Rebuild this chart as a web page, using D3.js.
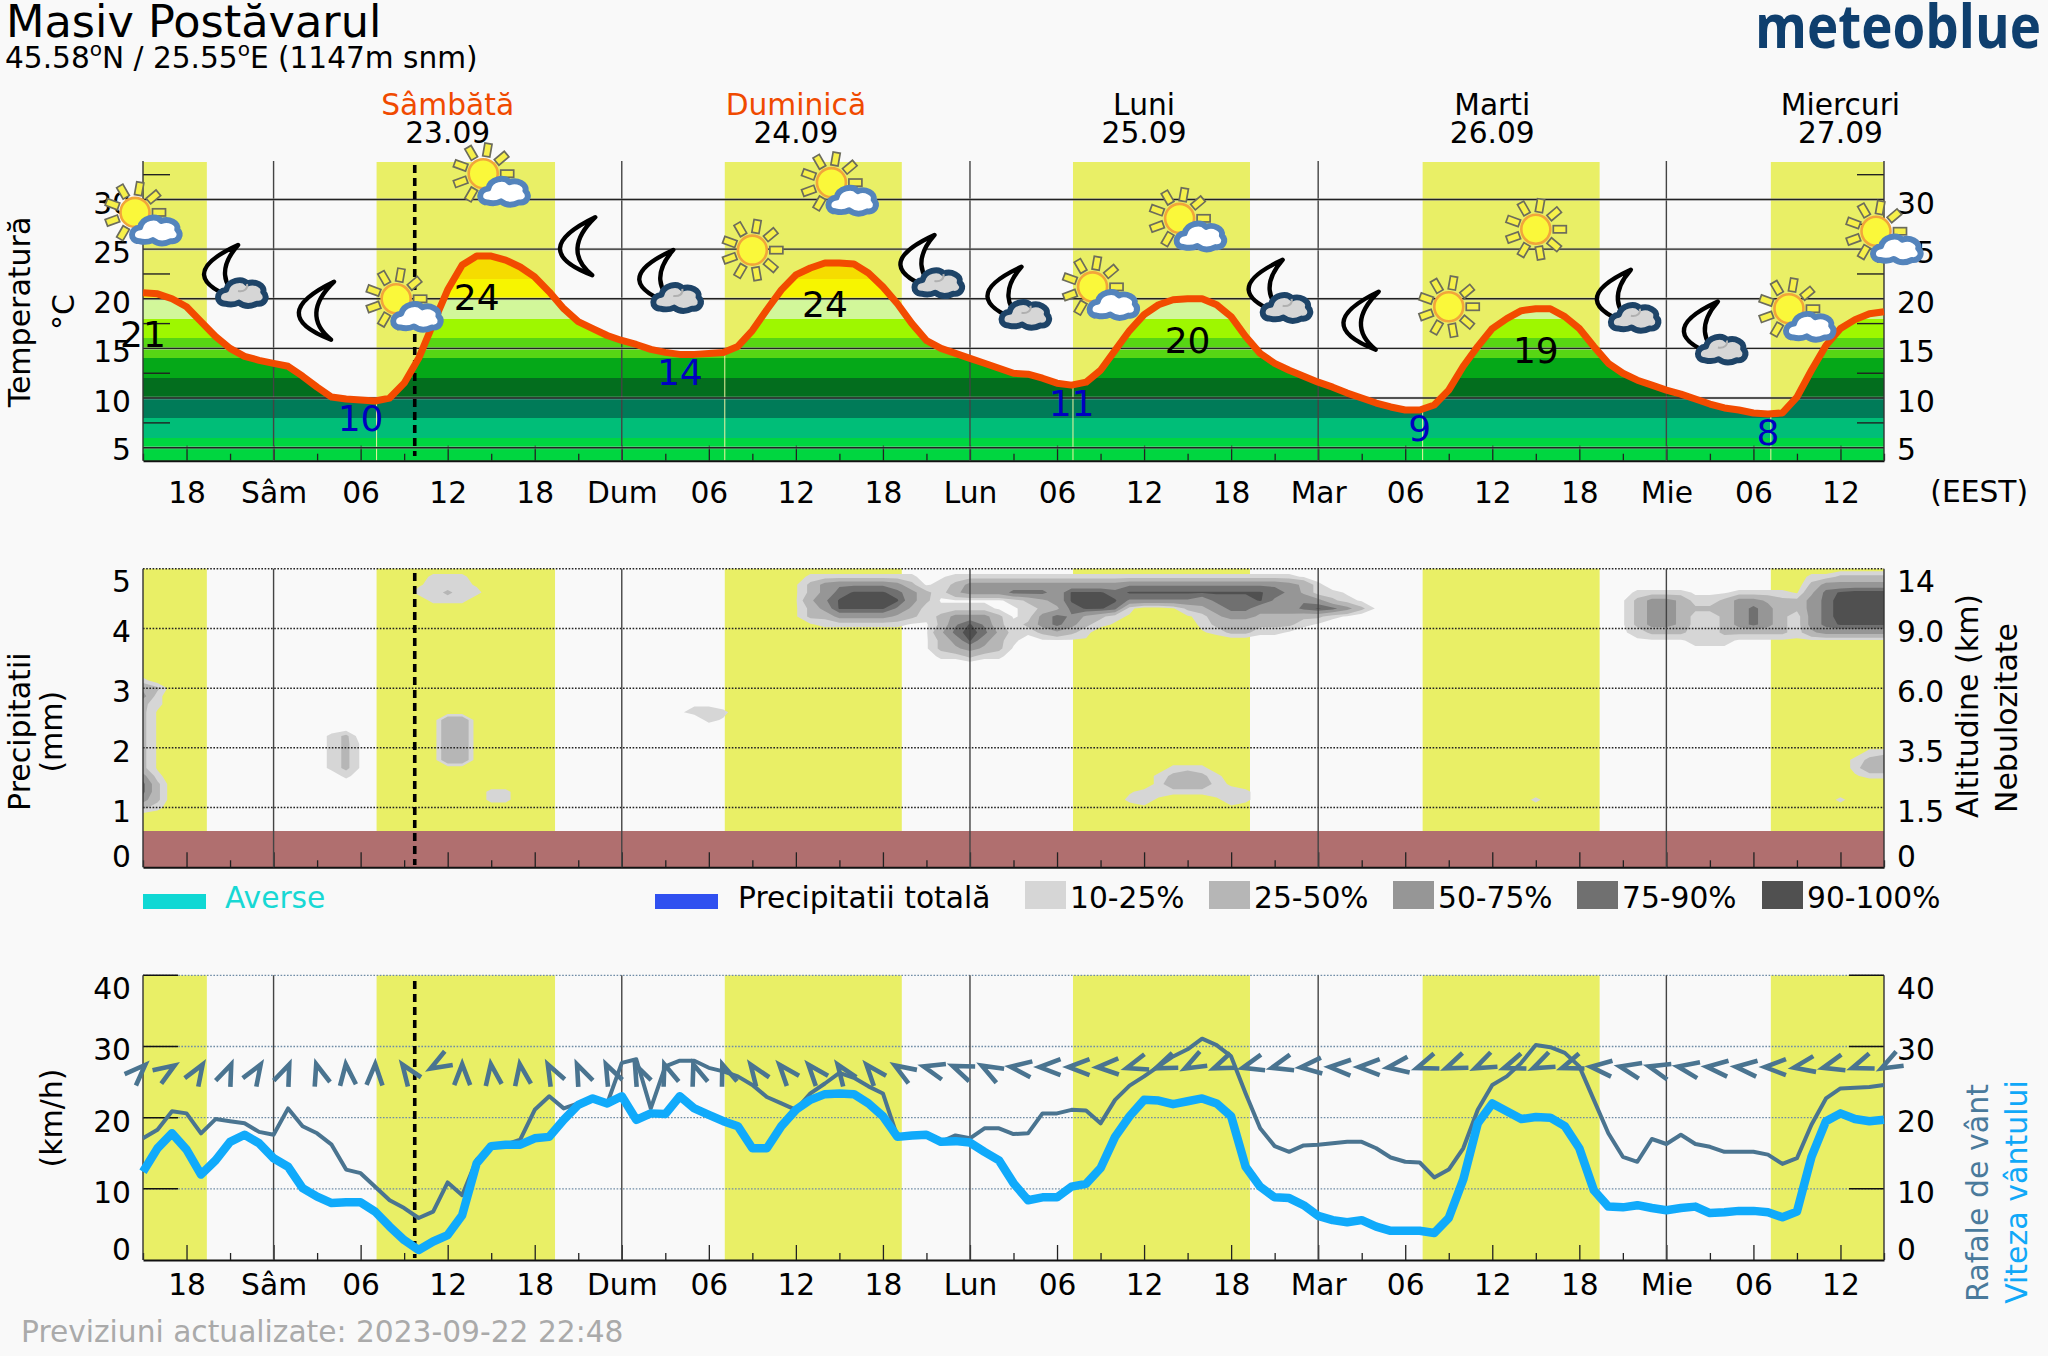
<!DOCTYPE html>
<html><head><meta charset="utf-8">
<script src="https://cdn.jsdelivr.net/npm/d3@7/dist/d3.min.js"></script>
<style>
html,body{margin:0;padding:0;background:#f9f9f9;}
svg{display:block;}
text{font-family:"DejaVu Sans",sans-serif;}
</style></head><body>
<svg id="c" width="2048" height="1356"></svg>
<script>
// ---------- data ----------
const hours = d3.range(-9,112);
const temperature = [
20.6,20.5,20.0,19.2,17.7,16.2,15.0,14.2,13.8,13.5,
13.2,12.2,11.1,10.1,9.9,9.8,9.7,10,11.5,14,
17.5,20.9,23.4,24.3,24.3,23.9,23.2,22.2,20.7,19,
17.7,17,16.3,15.8,15.4,14.9,14.6,14.4,14.4,14.5,
14.6,15.2,16.8,18.9,20.9,22.4,23.1,23.6,23.6,23.5,
22.6,21.2,19.5,17.5,15.8,15,14.5,14,13.5,13,
12.5,12.4,12,11.5,11.3,11.6,12.8,14.8,16.8,18.4,
19.4,19.9,20,20,19.4,18.2,16.2,14.5,13.5,12.8,
12.2,11.6,11.1,10.5,10,9.5,9.1,8.8,8.8,9.3,
10.8,13.2,15.2,17,18,18.8,19,19,18.2,17,
15.2,13.5,12.5,11.8,11.3,10.8,10.4,9.9,9.4,9,
8.8,8.5,8.4,8.5,10.1,12.8,15.3,17,17.9,18.5,18.7];
const windSpeed = [
12.4,15.7,17.8,15.5,12,14,16.6,17.6,16.4,14.3,
13.1,10.1,8.9,8,8.1,8.1,6.8,4.7,2.8,1.4,
2.6,3.5,6.3,13.6,16,16.2,16.2,17.1,17.3,19.7,
21.8,22.7,22,23,19.7,20.6,20.5,23,21.3,20.4,
19.5,18.8,15.7,15.7,18.8,21.1,22.5,23.3,23.4,23.3,
22,20.2,17.3,17.5,17.6,16.6,16.7,16.5,15.2,14,
10.8,8.4,8.8,8.8,10.3,10.7,12.9,17.3,20.2,22.5,
22.4,21.9,22.3,22.7,22,20.2,13.1,10.3,8.8,8.7,
7.7,6.2,5.6,5.3,5.6,4.7,4.1,4.1,4.1,3.8,
5.9,11.3,19.2,22,20.9,19.8,20.1,20,18.8,15.7,
9.8,7.5,7.4,7.7,7.3,7,7.3,7.5,6.6,6.7,
6.9,6.9,6.7,6,6.8,14.5,19.5,20.6,19.8,19.5,19.7];
const windGust = [
17.1,18.3,20.9,20.6,17.8,19.8,19.5,19.2,18,17.6,
21.3,18.8,17.8,16.2,12.7,12.2,10.3,8.4,7.3,5.9,
6.8,10.9,9.1,14.1,16,16.2,16.9,21.1,23,21.3,
22,22.7,22,27.7,28.2,21.3,27.2,28,28,27,
26.5,25.8,24.6,22.9,22,21.1,23.4,24.8,26.3,25.6,
24.4,23.4,17.3,17.5,17.6,16.6,17.5,17.1,18.5,18.5,17.7,
17.8,20.6,20.6,21.1,21,19.2,22.5,24.5,25.8,27.2,
28.6,29.6,31.1,30.2,28.6,23.4,18.5,16,15.2,16.1,
16.2,16.4,16.6,16.6,15.7,14.4,13.8,13.7,11.6,12.7,
15.7,21.1,24.6,25.8,27.7,30.2,29.9,29.1,27.2,22.5,
17.8,14.5,13.8,17,16.3,17.6,16.3,15.9,15.2,15.2,
15.2,14.8,13.5,14.3,19,22.7,24.1,24.2,24.3,24.6];
const windDirHours = d3.range(-9,112,2);
const windDir = [45,57,32,23,32,23,-17,-6,2,-35,-120,0,-8,-9,-28,-24,-26,-25,-19,-19,-20,-35,-40,-40,-35,-40,
 -58,-75,-68,-61,-83,-90,-90,-92,-107,-112,-118,-112,-105,-105,-95,-88,-90,-98,-110,-112,-115,-110,-115,-110,
 -85,-78,-75,-80,-85,-85,-90,-100,-105,-110,-118];
const daylight = [[-9,-4.6],[7.1,19.4],[31.1,43.3],[55.1,67.3],[79.2,91.4],[103.2,111]];
const nowHour = 9.73;
const dayNames = ["Sâmbătă","Duminică","Luni","Marti","Miercuri"];
const dayDates = ["23.09","24.09","25.09","26.09","27.09"];
const dayColors = ["#F04A00","#F04A00","#000","#000","#000"];
const dayNoons = [12,36,60,84,108];
const tickNames = {"-6":"18",0:"Sâm",6:"06",12:"12",18:"18",24:"Dum",30:"06",36:"12",42:"18",48:"Lun",54:"06",60:"12",66:"18",72:"Mar",78:"06",84:"12",90:"18",96:"Mie",102:"06",108:"12"};
const bandEdges = [3.7,6,8,10,12,14,16,18,20,22,34];
const bandColors = ["#00D640","#00BE78","#007B58","#036E1E","#05A818","#57D614","#9EF700","#D2F79A","#F7F500","#F5DC00"];
const tempMajor = [5,10,15,20,25,30];
const tempMinor = [7.5,12.5,17.5,22.5,27.5,32.5];
const tempMaxLabels = [[-9,21],[14,24],[38,24],[63,20],[87,19]];
const tempMinLabels = [[6,10],[28,14],[55,11],[79,9],[103,8]];
const iconHours = d3.range(-9,112,6);
const iconKinds = ["sc","mc","m","sc","sc","m","mc","s","sc","mc","mc","sc","sc","mc","m","s","s","mc","mc","sc","sc"];
const iconLevels = [28.6,22.4,18.9,19.9,32.5,25.4,21.9,24.9,31.6,23.4,20.2,21.1,28,20.9,17.9,19.2,27,19.9,16.7,18.9,26.7];
const precipTicks = [1,2,3,4,5];
const altitudeLabels = {0:"0",1:"1.5",2:"3.5",3:"6.0",4:"9.0",5:"14"};
const windTicks = [10,20,30,40];
const cloudLevels = [10,25,50,75,90];
const cloudColors = ["#D6D6D6","#B6B6B6","#969696","#707070","#505050"];
const cloudLegend = ["10-25%","25-50%","50-75%","75-90%","90-100%"];
const cloudDigit = [0,8,15,30,45,60,72,82,92,98];
// cloud cover patches: start hour, start row, rows of cover codes (one column per hour)
const cloudA = [36,1,["0222222220","1356666531","1357888753","1468999853","1358888642","1335555432","0122222210"]];
const cloudB = [45,5,["0222210","1355531","1368632","1479742","1358532","1345431","0223220"]];
const cloudC = [45,1,[
"01222222222222222222222222100000",
"02355555555555666666666665420000",
"02455577758887888888888876422100",
"01111123458888666665777865653210",
"00000012347887200134577555787531",
"00000012576432100012455444332100",
"00000013575321000002333333210000",
"00000002343200000001233221000000",
"00000000111100000000000000000000"]];
const cloudD = [93,3,[
"0222211122221478999",
"1355422355433579999",
"1355433357533579999",
"1355422357532579999",
"1355422357532578888",
"1233322333332455555",
"0111122211111111111",
"0000011100000000000"]];
const cloudD2 = [106,1,["223333","355555"]];
const cloudE1 = [10,1,["02220","12221","22322","02220"]];
const cloudE2 = [-9,14,["200","430","520","320","310","310","310","310","310","310","310","310","520","730","730","530","320"]];
const cloudE3 = [3,21,["0230","0231","0231","0231","0231","0020"]];
const cloudE4 = [11,19,["0440","0440","0440","0440","0440","0440"]];
const cloudE5 = [14,28,["0220","0220"]];
const cloudE6 = [28,17,["01100","12220","00210"]];
const cloudE7 = [58,25,["00002220000","00023432000","00024442100","01222222220","02210001220","00100000100"]];
const cloudE8 = [108,23,["0022","0234","0244","0122"]];
const cloudE9 = [87,29,["2"]];
const cloudE10 = [108,29,["2"]];
const legendTexts = ["Averse","Precipitatii totală"];

// ---------- layout ----------
const BG="#F9F9F9", SUN="#E9EF66", GROUND="#B06F6F", GUSTC="#4A7490", WINDC="#10AAFB", FONT=29.7;
const L=143,R=1884;
const x = d3.scaleLinear().domain([-9,111]).range([L,R]);
const yT = d3.scaleLinear().domain([5,30]).range([447.7,199.5]);
const yP = d3.scaleLinear().domain([0,5]).range([867.3,568.7]);
const yW = d3.scaleLinear().domain([0,40]).range([1260,975.3]);
const yRow = d3.scaleLinear().domain([0,33]).range([568.7,831.7]);
const tTop=162,tBot=460.7,pTop=568.7,pGround=831,pBot=867.3,wTop=975.3,wBot=1260;
const svg = d3.select("#c");
svg.append("rect").attr("width",2048).attr("height",1356).attr("fill",BG);
const defs = svg.append("defs");

function txt(g,s,px,py,o={}){
  return g.append("text").attr("x",px).attr("y",py).attr("font-size",o.size||FONT).attr("fill",o.fill||"#000")
    .attr("text-anchor",o.anchor||"start").text(s);
}
function rotLabel(s,cx,cy,fill){
  return svg.append("text").attr("transform",`translate(${cx+10},${cy}) rotate(-90)`).attr("text-anchor","middle")
    .attr("font-size",30).attr("fill",fill||"#000").text(s);
}
function sunRects(g,top,bot){
  g.selectAll(null).data(daylight).join("rect").attr("x",d=>x(d[0])).attr("width",d=>x(d[1])-x(d[0]))
    .attr("y",top).attr("height",bot-top).attr("fill",SUN);
}
function timeAxes(g,bottom,labelPad,showLabels){
  const major = hours.filter(h=>(h%6===0));
  const minor = hours.filter(h=>(((h%6)+6)%6===3));
  const ax = d3.axisBottom(x).tickValues(major).tickSizeOuter(0).tickSizeInner(-15).tickPadding(labelPad)
     .tickFormat(d=>showLabels?tickNames[d]:"");
  const gg=g.append("g").attr("transform",`translate(0,${bottom})`).call(ax);
  gg.selectAll("text").attr("font-size",FONT).attr("font-family","DejaVu Sans").attr("fill","#000");
  gg.selectAll("line").attr("stroke","#222").attr("stroke-width",1.3);
  gg.select(".domain").attr("stroke","#111").attr("stroke-width",2);
  const ax2=d3.axisBottom(x).tickValues(minor).tickSizeOuter(0).tickSizeInner(-7).tickFormat("");
  const g2=g.append("g").attr("transform",`translate(0,${bottom})`).call(ax2);
  g2.select(".domain").remove();
  g2.selectAll("line").attr("stroke","#222").attr("stroke-width",1.3);
}
function dayLines(g,top,bot){
  g.selectAll(null).data([0,24,48,72,96]).join("line").attr("x1",d=>x(d)).attr("x2",d=>x(d)).attr("y1",top).attr("y2",bot)
   .attr("stroke","#444").attr("stroke-width",1.4);
}
function edges(g,top,bot){
  g.selectAll(null).data([L,R]).join("line").attr("x1",d=>d).attr("x2",d=>d).attr("y1",top).attr("y2",bot)
   .attr("stroke","#333").attr("stroke-width",1.4);
}
function nowLine(g,top,bot){
  g.append("line").attr("x1",x(nowHour)).attr("x2",x(nowHour)).attr("y1",top).attr("y2",bot)
   .attr("stroke","#000").attr("stroke-width",3.6).attr("stroke-dasharray","8,5");
}
function yLabels(scale,values,fmt,dyFn,side){
  const ax=(side==="l"?d3.axisLeft(scale).tickPadding(12):d3.axisRight(scale).tickPadding(13))
     .tickValues(values).tickSize(0).tickFormat(fmt);
  const g=svg.append("g").attr("transform",`translate(${side==="l"?L:R},0)`).call(ax);
  g.select(".domain").remove();
  g.selectAll("text").attr("font-size",FONT).attr("font-family","DejaVu Sans").attr("fill","#000")
    .attr("dy",d=>(dyFn(d)+10)+"px");
  return g;
}

// ---------- header ----------
txt(svg,"Masiv Postăvarul",6,37,{size:44.6});
const sub=svg.append("text").attr("x",5).attr("y",68).attr("font-size",29.6);
sub.append("tspan").text("45.58");
sub.append("tspan").attr("font-size",20).attr("dy",-12).text("o");
sub.append("tspan").attr("dy",12).text("N / 25.55");
sub.append("tspan").attr("font-size",20).attr("dy",-12).text("o");
sub.append("tspan").attr("dy",12).text("E (1147m snm)");
svg.append("text").attr("x",1755).attr("y",48).attr("textLength",286).attr("lengthAdjust","spacingAndGlyphs")
  .attr("font-size",60).attr("font-weight",700).style("font-family","'Open Sans'").attr("fill","#0F3F6E").text("meteoblue");
dayNoons.forEach((h,i)=>{
  txt(svg,dayNames[i],x(h),115,{anchor:"middle",fill:dayColors[i]});
  txt(svg,dayDates[i],x(h),142.7,{anchor:"middle"});
});
txt(svg,"(EEST)",2028,502,{anchor:"end"});

// ---------- temperature panel ----------
const p1=svg.append("g");
sunRects(p1,tTop,tBot);
defs.append("clipPath").attr("id","under").append("path")
  .attr("d",d3.area().x((d,i)=>x(hours[i])).y0(tBot).y1(d=>yT(d))(temperature));
const bands=p1.append("g").attr("clip-path","url(#under)");
bands.selectAll("rect").data(bandColors).join("rect").attr("x",L).attr("width",R-L)
  .attr("y",(d,i)=>yT(bandEdges[i+1])).attr("height",(d,i)=>yT(bandEdges[i])-yT(bandEdges[i+1])).attr("fill",d=>d)
  .attr("shape-rendering","crispEdges");
bands.selectAll("line").data(daylight.slice(1)).join("line").attr("x1",d=>x(d[0])).attr("x2",d=>x(d[0]))
  .attr("y1",tTop).attr("y2",tBot).attr("stroke","#f1f3a0").attr("stroke-width",1);
timeAxes(p1,tBot,21,true);
dayLines(p1,tTop-1,tBot);
p1.selectAll(null).data(tempMajor).join("line").attr("x1",L).attr("x2",R).attr("y1",d=>yT(d)).attr("y2",d=>yT(d))
  .attr("stroke","#c8c8c8").attr("stroke-width",3).attr("stroke-opacity",.45);
p1.selectAll(null).data(tempMajor).join("line").attr("x1",L).attr("x2",R).attr("y1",d=>yT(d)).attr("y2",d=>yT(d))
  .attr("stroke","#222").attr("stroke-width",1.4);
p1.selectAll(null).data(tempMinor).join("line").attr("x1",L).attr("x2",L+27).attr("y1",d=>yT(d)).attr("y2",d=>yT(d)).attr("stroke","#222").attr("stroke-width",1.4);
p1.selectAll(null).data(tempMinor).join("line").attr("x1",R-27).attr("x2",R).attr("y1",d=>yT(d)).attr("y2",d=>yT(d)).attr("stroke","#222").attr("stroke-width",1.4);
edges(p1,tTop-1,tBot);
nowLine(p1,165,456);
p1.append("path").attr("d",d3.line().x((d,i)=>x(hours[i])).y(d=>yT(d))(temperature))
  .attr("fill","none").attr("stroke","#F24B00").attr("stroke-width",7).attr("stroke-linejoin","round");
yLabels(yT,tempMajor,d=>d,d=>d===5?1.5:3.5,"l");
yLabels(yT,tempMajor,d=>d,d=>d===5?1.5:3.5,"r");
const tempAt=h=>temperature[hours.indexOf(h)];
tempMaxLabels.forEach(([h,v])=>txt(svg,v,x(h),yT(tempAt(h))+54,{anchor:"middle",size:36}));
tempMinLabels.forEach(([h,v])=>txt(svg,v,x(h),yT(tempAt(h))+31,{anchor:"middle",size:36,fill:"#0000C0"}));
rotLabel("Temperatură",20,312);
rotLabel("°C",64,312);

// icons
const RAYS=d3.range(0,360,40);
const CLOUD="M-16,12C-25,12 -25,0 -15,-1C-13,-10 0,-13 5,-7C12,-10 22,-5 20,1C25,6 21,13 14,12C8,15 2,15 -3,11C-7,13 -12,13 -16,12Z";
function drawSun(g,ox,oy){
  const s=g.append("g").attr("transform",`translate(${ox},${oy})`);
  s.selectAll("rect").data(RAYS).join("rect").attr("x",-3.6).attr("y",-30.5).attr("width",7.2).attr("height",13)
    .attr("transform",d=>`rotate(${d+10})`).attr("fill","#F6F04A").attr("stroke","#6c6c5c").attr("stroke-width",1.7);
  s.append("circle").attr("r",14.5).attr("fill","#FAF83A").attr("stroke","#F2A63A").attr("stroke-width",2.6);
}
function drawCloud(g,ox,oy,fill,stroke){
  g.append("path").attr("transform",`translate(${ox},${oy}) scale(1.06)`).attr("d",CLOUD)
   .attr("fill",fill).attr("stroke",stroke).attr("stroke-width",5.6).attr("stroke-linejoin","round");
}
function drawMoon(g,d){
  g.append("path").attr("d",d).attr("fill",BG).attr("stroke","#000").attr("stroke-width",4.4).attr("stroke-linejoin","round");
}
const icons=svg.append("g");
iconHours.forEach((h,i)=>{
  const k=iconKinds[i];
  const g=icons.append("g").attr("transform",`translate(${x(h)+(k==="mc"?6:0)},${yT(iconLevels[i])})`);
  if(k==="s") drawSun(g,0,0);
  if(k==="sc"){drawSun(g,-8,-1);drawCloud(g,13,15,"#fff","#5484BC");}
  if(k==="m") drawMoon(g,"M17,-28Q-52,5 14,30Q-17,5 17,-28Z");
  if(k==="mc"){
    drawMoon(g,"M2,-30Q-68,2 6,26Q-26,2 2,-30Z");
    drawCloud(g,6,16,"#D6D6D6","#1E4468");
    g.append("path").attr("d","M2,16C8,17 12,14 11,9").attr("fill","none").attr("stroke","#b0b0b0").attr("stroke-width",2);
  }
});

// ---------- precipitation / cloud panel ----------
const p2=svg.append("g");
sunRects(p2,pTop,pGround);
p2.append("rect").attr("x",L).attr("width",R-L).attr("y",pGround).attr("height",pBot-pGround).attr("fill",GROUND);
const nCols=hours.length,nRows=33;
const grid=new Array(nCols*nRows).fill(0);
[cloudA,cloudB,cloudC,cloudD,cloudD2,cloudE1,cloudE2,cloudE3,cloudE4,cloudE5,cloudE6,cloudE7,cloudE8,cloudE9,cloudE10].forEach(([h0,r0,rows])=>{
  rows.forEach((row,r)=>[...row].forEach((ch,c)=>{
    const col=h0+9+c, i=(r0+r)*nCols+col;
    if(col<nCols) grid[i]=Math.max(grid[i],cloudDigit[+ch]);
  }));
});
defs.append("clipPath").attr("id","plot2").append("rect").attr("x",L).attr("y",pTop).attr("width",R-L).attr("height",pGround-pTop);
const cpath=d3.geoPath(d3.geoTransform({point(a,b){this.stream.point(x(-9+a-.5),yRow(b-.5));}}));
p2.append("g").attr("clip-path","url(#plot2)").selectAll("path")
  .data(d3.contours().size([nCols,nRows]).thresholds(cloudLevels)(grid)).join("path")
  .attr("d",cpath).attr("fill",(d,i)=>cloudColors[i]);
timeAxes(p2,pBot,0,false);
p2.selectAll(null).data(precipTicks).join("line").attr("x1",L).attr("x2",R).attr("y1",d=>yP(d)).attr("y2",d=>yP(d))
  .attr("stroke","#222").attr("stroke-width",1.5).attr("stroke-dasharray","1.6,1.6");
dayLines(p2,pTop,pBot);
edges(p2,pTop,pBot);
nowLine(p2,573,865);
const p2dy=d=>d===5?13:d===0?-11:3.5;
yLabels(yP,[0,1,2,3,4,5],d=>d,p2dy,"l");
yLabels(yP,[0,1,2,3,4,5],d=>altitudeLabels[d],p2dy,"r");
rotLabel("Precipitatii",20,731.7);
rotLabel("(mm)",52,731.7);
rotLabel("Altitudine (km)",1968,706);
rotLabel("Nebulozitate",2007,718);

// legend
const lg=svg.append("g");
lg.append("rect").attr("x",143).attr("y",894).attr("width",63).attr("height",15).attr("fill","#10D8D4");
txt(lg,legendTexts[0],225,908,{fill:"#18D8D4"});
lg.append("rect").attr("x",655).attr("y",894).attr("width",63).attr("height",15).attr("fill","#3050F0");
txt(lg,legendTexts[1],738,908);
const swatchX=[1025,1209,1393,1577,1762];
cloudLegend.forEach((s,i)=>{
  lg.append("rect").attr("x",swatchX[i]).attr("y",881).attr("width",41).attr("height",28).attr("fill",cloudColors[i]);
  txt(lg,s,swatchX[i]+45,908);
});

// ---------- wind panel ----------
const p3=svg.append("g");
sunRects(p3,wTop,wBot);
timeAxes(p3,wBot,14,true);
p3.selectAll(null).data(windTicks).join("line").attr("x1",L).attr("x2",R).attr("y1",d=>yW(d)).attr("y2",d=>yW(d))
  .attr("stroke","#6F8CA6").attr("stroke-width",1.3).attr("stroke-dasharray","1.6,1.6");
p3.selectAll(null).data(windTicks).join("line").attr("x1",L).attr("x2",L+35).attr("y1",d=>yW(d)).attr("y2",d=>yW(d)).attr("stroke","#111").attr("stroke-width",1.5);
p3.selectAll(null).data(windTicks).join("line").attr("x1",R-35).attr("x2",R).attr("y1",d=>yW(d)).attr("y2",d=>yW(d)).attr("stroke","#111").attr("stroke-width",1.5);
dayLines(p3,wTop,wBot);
edges(p3,wTop,wBot);
nowLine(p3,981,1258);
const arrowLevel=27.1;
p3.selectAll(null).data(windDir).join("path")
  .attr("transform",(d,i)=>`translate(${x(windDirHours[i])},${yW(arrowLevel)}) rotate(${d})`)
  .attr("d","M-8,18L0,-3L8,18").attr("fill","none").attr("stroke",GUSTC).attr("stroke-width",4.6);
const wline=d3.line().x((d,i)=>x(hours[i])).y(d=>yW(d));
p3.append("path").attr("d",wline(windGust)).attr("fill","none").attr("stroke",GUSTC).attr("stroke-width",4).attr("stroke-linejoin","round");
p3.append("path").attr("d",wline(windSpeed)).attr("fill","none").attr("stroke",WINDC).attr("stroke-width",8.5).attr("stroke-linejoin","round");
const p3dy=d=>d===40?13:d===0?-11:3.5;
yLabels(yW,[0,10,20,30,40],d=>d,p3dy,"l");
yLabels(yW,[0,10,20,30,40],d=>d,p3dy,"r");
rotLabel("(km/h)",52,1118);
rotLabel("Rafale de vânt",1977.6,1193,"#4A7A9B");
rotLabel("Viteza vântului",2017,1192,"#10A8F8");

txt(svg,"Previziuni actualizate: 2023-09-22 22:48",21,1341.5,{fill:"#AAAAAA"});
</script>
</body></html>
